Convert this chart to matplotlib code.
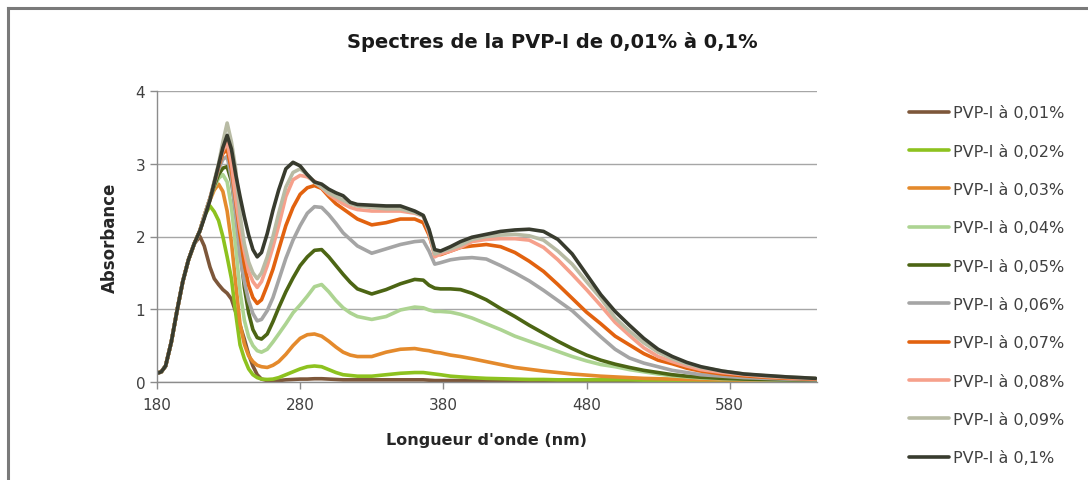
import matplotlib
matplotlib.use("Agg")
import matplotlib.pyplot as plt
from matplotlib.lines import Line2D

plt.rcParams['font.family'] = ['DejaVu Sans']

wavelength = [180, 183, 186, 190, 194, 198, 202, 206, 210, 213, 217, 220, 223, 226, 229,
              232, 235, 238, 241, 244, 247, 250, 253, 257, 261, 265, 270, 275, 280, 285,
              290, 295, 300, 305, 310, 315, 320, 330, 340, 350, 360, 366, 370, 374, 378,
              385, 392, 400, 410, 420, 430, 440, 450, 460, 470, 480, 490, 500, 510, 520,
              530, 540, 550, 560, 575, 590, 605, 620, 640]

rise = [0.12, 0.14, 0.22, 0.55, 0.98, 1.38, 1.68, 1.90]

pvp_001 = rise + [2.00, 1.87, 1.58, 1.42, 1.34, 1.27, 1.22,
                  1.14, 0.96, 0.78, 0.59, 0.38, 0.22, 0.10, 0.04, 0.02, 0.02, 0.02, 0.03, 0.035, 0.04, 0.04,
                  0.045, 0.045, 0.04, 0.035, 0.03, 0.03, 0.03, 0.03, 0.03, 0.03, 0.03, 0.03, 0.025, 0.02, 0.02,
                  0.02, 0.02, 0.02, 0.02, 0.02, 0.02, 0.02, 0.02, 0.015, 0.015, 0.015, 0.015, 0.015, 0.015, 0.015,
                  0.01, 0.01, 0.01, 0.01, 0.01, 0.01, 0.01, 0.01, 0.01]

pvp_002 = rise + [2.08, 2.28, 2.42, 2.34, 2.22, 2.00, 1.72,
                  1.42, 0.94, 0.51, 0.32, 0.18, 0.10, 0.06, 0.04, 0.035, 0.04, 0.06, 0.10, 0.14, 0.18, 0.21,
                  0.22, 0.21, 0.17, 0.13, 0.10, 0.09, 0.08, 0.08, 0.10, 0.12, 0.13, 0.13, 0.12, 0.11, 0.10,
                  0.08, 0.07, 0.06, 0.05, 0.045, 0.04, 0.035, 0.035, 0.03, 0.03, 0.03, 0.03, 0.03, 0.03, 0.025,
                  0.025, 0.02, 0.02, 0.02, 0.02, 0.02, 0.015, 0.015, 0.015]

pvp_003 = rise + [2.08, 2.28, 2.50, 2.64, 2.72, 2.62, 2.35,
                  1.92, 1.35, 0.80, 0.52, 0.36, 0.28, 0.23, 0.21, 0.20, 0.23, 0.28, 0.38, 0.50, 0.60, 0.65,
                  0.66, 0.63, 0.56, 0.48, 0.41, 0.37, 0.35, 0.35, 0.41, 0.45, 0.46, 0.44, 0.43, 0.41, 0.40,
                  0.37, 0.35, 0.32, 0.28, 0.24, 0.20, 0.175, 0.15, 0.13, 0.11, 0.095, 0.08, 0.07, 0.06, 0.05,
                  0.045, 0.04, 0.035, 0.03, 0.03, 0.025, 0.02, 0.02, 0.015]

pvp_004 = rise + [2.08, 2.28, 2.52, 2.68, 2.80, 2.85, 2.75,
                  2.40, 1.85, 1.25, 0.85, 0.62, 0.50, 0.43, 0.41, 0.45, 0.55, 0.66, 0.80, 0.95, 1.06, 1.18,
                  1.31, 1.34, 1.24, 1.12, 1.02, 0.95, 0.90, 0.86, 0.90, 0.99, 1.03, 1.02, 0.99, 0.97, 0.97,
                  0.96, 0.93, 0.88, 0.80, 0.72, 0.63, 0.56, 0.49, 0.42, 0.35, 0.29, 0.24, 0.21, 0.17, 0.14,
                  0.11, 0.085, 0.07, 0.055, 0.045, 0.035, 0.03, 0.025, 0.02]

pvp_005 = rise + [2.08, 2.28, 2.52, 2.70, 2.85, 2.94, 2.96,
                  2.76, 2.35, 1.85, 1.30, 0.95, 0.72, 0.61, 0.59, 0.66, 0.83, 1.02, 1.24, 1.43, 1.60, 1.72,
                  1.81, 1.82, 1.72, 1.60, 1.48, 1.37, 1.28, 1.21, 1.27, 1.35, 1.41, 1.40, 1.33, 1.29, 1.28,
                  1.28, 1.27, 1.22, 1.13, 1.01, 0.90, 0.78, 0.67, 0.56, 0.46, 0.37, 0.30, 0.245, 0.20, 0.16,
                  0.13, 0.10, 0.08, 0.065, 0.05, 0.04, 0.035, 0.03, 0.025]

pvp_006 = rise + [2.08, 2.28, 2.52, 2.72, 2.92, 3.06, 3.10,
                  2.80, 2.30, 1.72, 1.38, 1.12, 0.94, 0.84, 0.86, 0.98, 1.16, 1.40, 1.70, 1.95, 2.15, 2.32,
                  2.41, 2.40, 2.30, 2.18, 2.05, 1.96, 1.87, 1.77, 1.83, 1.89, 1.93, 1.94, 1.80, 1.62, 1.64,
                  1.68, 1.70, 1.71, 1.69, 1.60, 1.50, 1.39, 1.26, 1.12, 0.98, 0.80, 0.62, 0.45, 0.33, 0.26,
                  0.21, 0.16, 0.13, 0.10, 0.08, 0.06, 0.05, 0.04, 0.03]

pvp_007 = rise + [2.08, 2.28, 2.52, 2.74, 2.96, 3.14, 3.20,
                  2.92, 2.48, 2.02, 1.62, 1.33, 1.16, 1.08, 1.13, 1.33, 1.55, 1.82, 2.15, 2.40, 2.58, 2.67,
                  2.70, 2.66, 2.55, 2.45, 2.38, 2.31, 2.24, 2.16, 2.19, 2.24, 2.24, 2.19, 2.02, 1.76, 1.75,
                  1.80, 1.85, 1.87, 1.89, 1.86, 1.78, 1.66, 1.52, 1.34, 1.15, 0.96, 0.80, 0.63, 0.51, 0.39,
                  0.30, 0.25, 0.19, 0.15, 0.11, 0.085, 0.065, 0.05, 0.04]

pvp_008 = rise + [2.08, 2.28, 2.52, 2.75, 2.98, 3.18, 3.29,
                  3.00, 2.52, 2.12, 1.80, 1.52, 1.38, 1.30, 1.38, 1.60, 1.86, 2.15, 2.55, 2.78, 2.84, 2.82,
                  2.76, 2.67, 2.58, 2.51, 2.45, 2.40, 2.37, 2.35, 2.35, 2.35, 2.32, 2.28, 2.05, 1.72, 1.76,
                  1.80, 1.85, 1.93, 1.96, 1.97, 1.97, 1.95, 1.85, 1.68, 1.48, 1.27, 1.05, 0.82, 0.64, 0.47,
                  0.35, 0.28, 0.22, 0.17, 0.13, 0.10, 0.075, 0.06, 0.045]

pvp_009 = rise + [2.08, 2.28, 2.52, 2.76, 3.00, 3.30, 3.56,
                  3.30, 2.92, 2.30, 1.90, 1.65, 1.50, 1.42, 1.50, 1.72, 2.00, 2.32, 2.68, 2.88, 2.93, 2.85,
                  2.74, 2.68, 2.60, 2.55, 2.50, 2.45, 2.42, 2.40, 2.38, 2.38, 2.33, 2.28, 2.08, 1.76, 1.79,
                  1.83, 1.88, 1.96, 2.00, 2.02, 2.03, 2.01, 1.95, 1.80, 1.62, 1.38, 1.15, 0.88, 0.70, 0.54,
                  0.41, 0.32, 0.25, 0.20, 0.15, 0.11, 0.085, 0.07, 0.05]

pvp_010 = rise + [2.08, 2.25, 2.50, 2.74, 2.98, 3.22, 3.39,
                  3.20, 2.85, 2.55, 2.27, 2.02, 1.82, 1.72, 1.78, 2.04, 2.36, 2.64, 2.93, 3.02, 2.97, 2.85,
                  2.75, 2.72, 2.65, 2.60, 2.56, 2.47, 2.44, 2.43, 2.42, 2.42, 2.35, 2.29, 2.10, 1.82, 1.80,
                  1.86, 1.93, 1.99, 2.03, 2.07, 2.09, 2.10, 2.07, 1.96, 1.76, 1.48, 1.20, 0.97, 0.78, 0.60,
                  0.45, 0.35, 0.27, 0.21, 0.15, 0.11, 0.09, 0.07, 0.05]

labels = ["PVP-I à 0,01%", "PVP-I à 0,02%", "PVP-I à 0,03%", "PVP-I à 0,04%", "PVP-I à 0,05%",
          "PVP-I à 0,06%", "PVP-I à 0,07%", "PVP-I à 0,08%", "PVP-I à 0,09%", "PVP-I à 0,1%"]
series = [pvp_001, pvp_002, pvp_003, pvp_004, pvp_005, pvp_006, pvp_007, pvp_008, pvp_009, pvp_010]
colors = ["#7D573A", "#8DC21F", "#E48A2C", "#ADD492", "#4C6514",
          "#A5A5A5", "#E2620F", "#F6A08B", "#B8BBA4", "#383B2E"]

x_ticks = [180, 280, 380, 480, 580]
y_ticks = [0, 1, 2, 3, 4]

fig = plt.figure(figsize=(10.88, 4.81), dpi=100)
ax = fig.add_axes([157/1088, 1 - 383/481, (817 - 157)/1088, (383 - 92)/481])

for vals, lab, col in zip(series, labels, colors):
    ax.plot(wavelength, vals, color=col, lw=2.6, label=lab, solid_capstyle='round', solid_joinstyle='round')

ax.set_xlim(180, 641)
ax.set_ylim(0, 4)
ax.set_xticks(x_ticks)
ax.set_yticks(y_ticks)
ax.yaxis.grid(True, color="#A6A6A6", lw=1)
ax.set_axisbelow(True)
for s in ['top', 'right']:
    ax.spines[s].set_visible(False)
for s in ['left', 'bottom']:
    ax.spines[s].set_color("#8C8C8C")
    ax.spines[s].set_linewidth(1)
ax.tick_params(axis='both', colors="#8C8C8C", labelcolor="#404040", labelsize=11, length=5, width=1)
ax.tick_params(axis='x', pad=6)

ax.set_xlabel("Longueur d'onde (nm)", fontsize=11.5, fontweight='bold', color="#262626", labelpad=14)
ax.set_ylabel("Absorbance", fontsize=12, fontweight='bold', color="#262626", labelpad=12)
fig.text(552/1088, 1 - 42/481, "Spectres de la PVP-I de 0,01% à 0,1%", ha='center', va='center',
         fontsize=14, fontweight='bold', color="#1A1A1A")

leg = ax.legend(loc='upper left', bbox_to_anchor=(903/1088, 1 - 100/481), bbox_transform=fig.transFigure,
                frameon=False, fontsize=11.5, handlelength=2.5, handletextpad=0.2, labelspacing=1.46,
                borderaxespad=0)
for t in leg.get_texts():
    t.set_color("#404040")

# outer chart border (left and top)
fig.add_artist(Line2D([8/1088, 8/1088], [0, 1 - 9/481], transform=fig.transFigure, color="#7A7A7A", lw=2.2))
fig.add_artist(Line2D([8/1088, 1], [1 - 9/481, 1 - 9/481], transform=fig.transFigure, color="#7A7A7A", lw=2.2))

fig.savefig("out.png", dpi=100)
